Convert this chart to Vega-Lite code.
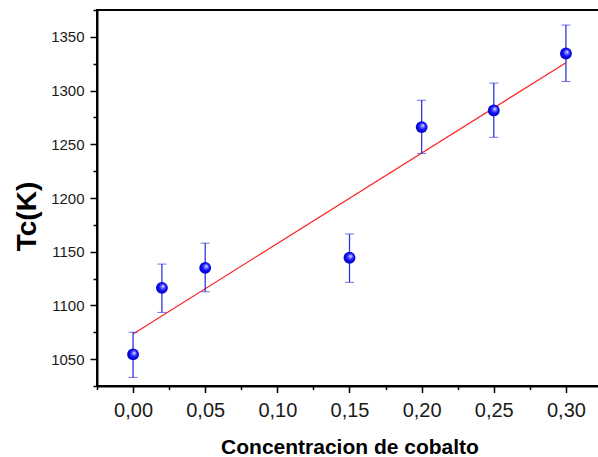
{
  "$schema": "https://vega.github.io/schema/vega-lite/v6.json",
  "width": 505,
  "height": 376,
  "autosize": {"type": "none"},
  "padding": {"left": 97, "top": 10, "right": 0, "bottom": 71},
  "background": "white",
  "config": {
    "view": {"stroke": "black", "strokeWidth": 2},
    "axis": {
      "grid": false,
      "domainColor": "black",
      "domainWidth": 2,
      "tickColor": "black",
      "tickWidth": 1.5,
      "labelFont": "Liberation Sans",
      "titleFont": "Liberation Sans",
      "labelColor": "#1a1a1a",
      "titleColor": "black",
      "titleFontWeight": "bold",
      "labelOverlap": false,
      "labelBound": false,
      "labelFlush": false
    }
  },
  "datasets": {
    "medidas": [
      {"cobalto": 0.00, "tc": 1054.4, "min": 1033, "max": 1075},
      {"cobalto": 0.02, "tc": 1116.4, "min": 1093.5, "max": 1138.5},
      {"cobalto": 0.05, "tc": 1135.0, "min": 1112.7, "max": 1158},
      {"cobalto": 0.15, "tc": 1144.4, "min": 1121.5, "max": 1166.5},
      {"cobalto": 0.20, "tc": 1266.0, "min": 1241.5, "max": 1291},
      {"cobalto": 0.25, "tc": 1281.5, "min": 1256.5, "max": 1307},
      {"cobalto": 0.30, "tc": 1334.5, "min": 1308.5, "max": 1361}
    ],
    "ajuste": [
      {"cobalto": 0.00, "tc": 1073.5},
      {"cobalto": 0.30, "tc": 1326.0}
    ]
  },
  "resolve": {"axis": {"x": "independent", "y": "independent"}},
  "layer": [
    {
      "data": {"name": "ajuste"},
      "mark": {"type": "line", "color": "#ff2020", "strokeWidth": 1.2},
      "encoding": {
        "x": {
          "field": "cobalto",
          "type": "quantitative",
          "scale": {"domain": [-0.025, 0.325], "nice": false, "zero": false},
          "axis": {
            "orient": "bottom",
            "values": [-0.025, 0.025, 0.075, 0.125, 0.175, 0.225, 0.275, 0.325],
            "labels": false,
            "domain": false,
            "tickSize": 3.5,
            "title": null
          }
        },
        "y": {
          "field": "tc",
          "type": "quantitative",
          "scale": {"domain": [1025, 1375], "nice": false, "zero": false},
          "axis": {
            "orient": "left",
            "values": [1025, 1075, 1125, 1175, 1225, 1275, 1325, 1375],
            "labels": false,
            "domain": false,
            "tickSize": 4,
            "title": null
          }
        }
      }
    },
    {
      "data": {"name": "medidas"},
      "mark": {
        "type": "errorbar",
        "ticks": {"size": 9, "color": "#3535e0", "strokeWidth": 1.3},
        "rule": {"color": "#3535e0", "strokeWidth": 1.3}
      },
      "encoding": {
        "x": {"field": "cobalto", "type": "quantitative", "axis": null},
        "y": {"field": "min", "type": "quantitative", "axis": null},
        "y2": {"field": "max"}
      }
    },
    {
      "data": {"name": "medidas"},
      "mark": {
        "type": "circle",
        "size": 140,
        "opacity": 1,
        "fill": {
          "gradient": "radial",
          "x1": 0.62, "y1": 0.35, "r1": 0,
          "x2": 0.5, "y2": 0.5, "r2": 0.55,
          "stops": [
            {"offset": 0, "color": "#ffffff"},
            {"offset": 0.22, "color": "#8080ff"},
            {"offset": 0.55, "color": "#1010ff"},
            {"offset": 1, "color": "#0000a8"}
          ]
        }
      },
      "encoding": {
        "x": {
          "field": "cobalto",
          "type": "quantitative",
          "axis": {
            "orient": "bottom",
            "values": [0, 0.05, 0.1, 0.15, 0.2, 0.25, 0.3],
            "labelExpr": "replace(format(datum.value, '.2f'), '.', ',')",
            "tickSize": 6.5,
            "labelFontSize": 20,
            "labelPadding": 8,
            "title": "Concentracion de cobalto",
            "titleFontSize": 21,
            "titleBaseline": "alphabetic",
            "titleY": 67
          }
        },
        "y": {
          "field": "tc",
          "type": "quantitative",
          "axis": {
            "orient": "left",
            "values": [1050, 1100, 1150, 1200, 1250, 1300, 1350],
            "format": "d",
            "tickSize": 7,
            "labelFontSize": 15,
            "labelPadding": 6,
            "title": "Tc(K)",
            "titleFontSize": 28,
            "titleAngle": -90,
            "titleAlign": "center",
            "titleBaseline": "alphabetic",
            "titleX": -62,
            "titleY": 206
          }
        }
      }
    }
  ]
}
